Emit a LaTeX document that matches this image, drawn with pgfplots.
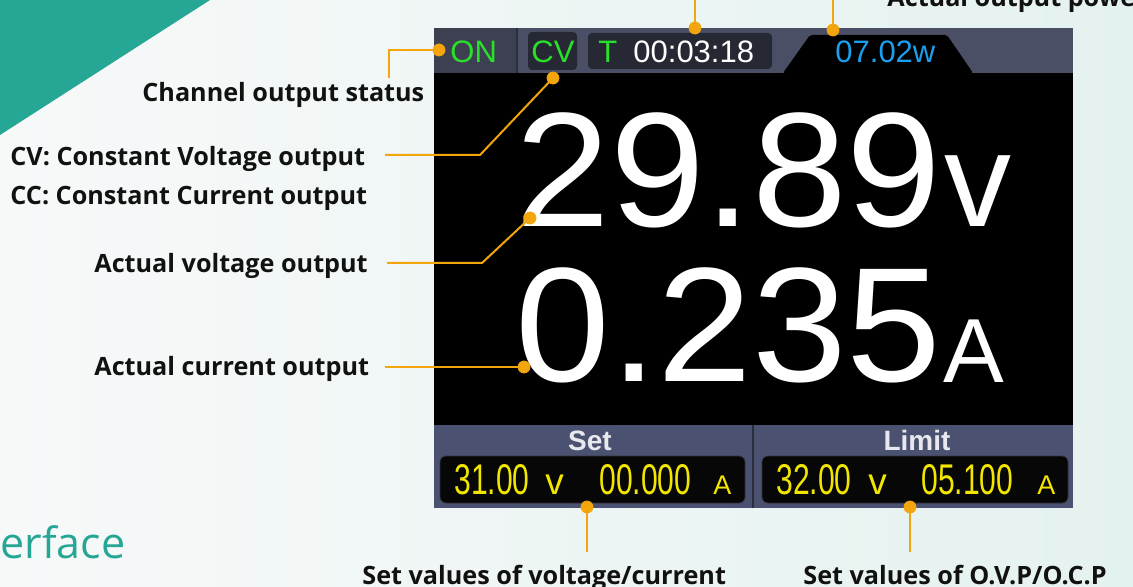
\documentclass[border=0pt]{standalone}
\usepackage{pgfplots}
\pgfplotsset{compat=1.18}
\usepackage{fontspec}
\setmainfont{Open Sans}
\newfontfamily\arial{Liberation Sans}
\newfontfamily\arialn[FakeStretch=0.70]{Liberation Sans}
\newfontfamily\arialw[FakeStretch=1.045]{Liberation Sans}
\definecolor{tealc}{RGB}{38,166,148}
\definecolor{orng}{RGB}{242,165,12}
\definecolor{bgL}{RGB}{247,249,249}
\definecolor{bgR}{RGB}{228,242,239}
\definecolor{barc}{RGB}{74,79,102}
\definecolor{bardk}{RGB}{60,64,81}
\definecolor{boxc}{RGB}{38,41,52}
\definecolor{panel}{RGB}{75,81,112}
\definecolor{divc}{RGB}{43,46,58}
\definecolor{grn}{RGB}{43,224,43}
\definecolor{cyn}{RGB}{26,160,238}
\definecolor{ylw}{RGB}{242,230,0}
\definecolor{setc}{RGB}{232,232,238}
\definecolor{txt}{RGB}{17,17,17}
\begin{document}
\begin{tikzpicture}
\begin{axis}[scale only axis, width=566.5pt, height=293.5pt,
  xmin=0, xmax=1133, ymin=0, ymax=587, y dir=reverse,
  hide axis, clip=false]
% background
\addplot[draw=none, left color=bgL, right color=bgR] coordinates {(0,0) (1133,0) (1133,587) (0,587)} -- cycle;
% teal triangle
\addplot[draw=none, fill=tealc] coordinates {(0,0) (210,0) (0,135)} -- cycle;
% screen top bar
\addplot[draw=none, fill=barc] coordinates {(434,28) (1073,28) (1073,73) (434,73)} -- cycle;
\addplot[draw=none, fill=bardk] coordinates {(434,28) (516,28) (516,73) (434,73)} -- cycle;
\addplot[divc, line width=1pt] coordinates {(517,28) (517,73)};
\addplot[draw=none, fill=boxc, rounded corners=2pt] coordinates {(528,32) (577,32) (577,70) (528,70)} -- cycle;
\addplot[draw=none, fill=boxc, rounded corners=2pt] coordinates {(588,33) (772,33) (772,69) (588,69)} -- cycle;
\addplot[draw=none, fill=black, rounded corners=1pt] coordinates {(783,73) (810,35) (947,35) (973,73)} -- cycle;
% black display
\addplot[draw=none, fill=black] coordinates {(434,73) (1073,73) (1073,425) (434,425)} -- cycle;
% bottom panel
\addplot[draw=none, fill=panel] coordinates {(434,425) (1073,425) (1073,508) (434,508)} -- cycle;
\addplot[divc, line width=1.2pt] coordinates {(753,425) (753,508)};
\addplot[draw={rgb,255:red,50;green,52;blue,62}, fill={rgb,255:red,7;green,7;blue,7}, rounded corners=3pt] coordinates {(440,456) (745,456) (745,503) (440,503)} -- cycle;
\addplot[draw={rgb,255:red,50;green,52;blue,62}, fill={rgb,255:red,7;green,7;blue,7}, rounded corners=3pt] coordinates {(762,456) (1068,456) (1068,503) (762,503)} -- cycle;
% top bar texts
\node[anchor=base west, inner sep=0, text=grn, font=\arial\fontsize{15.5}{15.5}\selectfont] at (axis cs:450,63) {ON};
\node[anchor=base west, inner sep=0, text=grn, font=\arial\fontsize{15.5}{15.5}\selectfont] at (axis cs:531,63) {CV};
\node[anchor=base west, inner sep=0, text=grn, font=\arial\fontsize{15.5}{15.5}\selectfont] at (axis cs:598,63) {T};
\node[anchor=base west, inner sep=0, text=white, font=\arial\fontsize{15.5}{15.5}\selectfont] at (axis cs:633,63) {00:03:18};
\node[anchor=base west, inner sep=0, text=cyn, font=\arial\fontsize{15.5}{15.5}\selectfont] at (axis cs:835,63) {07.02w};
% big readings
\node[anchor=base west, inner sep=0, text=white, font=\arialw\fontsize{81.5}{81.5}\selectfont] at (axis cs:515,227) {29.89};
\node[anchor=base west, inner sep=0, text=white, font=\arial\fontsize{67}{67}\selectfont] at (axis cs:944,227) {v};
\node[anchor=base west, inner sep=0, text=white, font=\arialw\fontsize{81.5}{81.5}\selectfont] at (axis cs:515,381) {0.235};
\node[anchor=base west, inner sep=0, text=white, font=\arial\fontsize{45.5}{45.5}\selectfont] at (axis cs:943,382) {A};
% bottom panel texts
\node[anchor=base, inner sep=0, text=setc, font=\arial\bfseries\fontsize{14}{14}\selectfont] at (axis cs:590,450) {Set};
\node[anchor=base, inner sep=0, text=setc, font=\arial\bfseries\fontsize{14}{14}\selectfont] at (axis cs:917,450) {Limit};
\node[anchor=base west, inner sep=0, text=ylw, font=\arialn\fontsize{21.5}{21.5}\selectfont] at (axis cs:454,494) {31.00};
\node[anchor=base west, inner sep=0, text=ylw, font=\arial\fontsize{18.5}{18.5}\selectfont] at (axis cs:545,494) {v};
\node[anchor=base west, inner sep=0, text=ylw, font=\arialn\fontsize{21.5}{21.5}\selectfont] at (axis cs:599,494) {00.000};
\node[anchor=base west, inner sep=0, text=ylw, font=\arial\fontsize{13.5}{13.5}\selectfont] at (axis cs:713,494) {A};
\node[anchor=base west, inner sep=0, text=ylw, font=\arialn\fontsize{21.5}{21.5}\selectfont] at (axis cs:776,494) {32.00};
\node[anchor=base west, inner sep=0, text=ylw, font=\arial\fontsize{18.5}{18.5}\selectfont] at (axis cs:868,494) {v};
\node[anchor=base west, inner sep=0, text=ylw, font=\arialn\fontsize{21.5}{21.5}\selectfont] at (axis cs:921,494) {05.100};
\node[anchor=base west, inner sep=0, text=ylw, font=\arial\fontsize{13.5}{13.5}\selectfont] at (axis cs:1037,494) {A};
% labels
\node[anchor=base west, inner sep=0, text=txt, font=\bfseries\fontsize{12.6}{12.6}\selectfont] at (axis cs:142,102) {Channel output status};
\node[anchor=base west, inner sep=0, text=txt, font=\bfseries\fontsize{12.6}{12.6}\selectfont] at (axis cs:10,166) {CV: Constant Voltage output};
\node[anchor=base west, inner sep=0, text=txt, font=\bfseries\fontsize{12.6}{12.6}\selectfont] at (axis cs:10,205) {CC: Constant Current output};
\node[anchor=base west, inner sep=0, text=txt, font=\bfseries\fontsize{12.6}{12.6}\selectfont] at (axis cs:94,273) {Actual voltage output};
\node[anchor=base west, inner sep=0, text=txt, font=\bfseries\fontsize{12.6}{12.6}\selectfont] at (axis cs:94,375) {Actual current output};
\node[anchor=base west, inner sep=0, text=txt, font=\bfseries\fontsize{12.6}{12.6}\selectfont] at (axis cs:362,584) {Set values of voltage/current};
\node[anchor=base west, inner sep=0, text=txt, font=\bfseries\fontsize{12.6}{12.6}\selectfont] at (axis cs:803,584) {Set values of O.V.P/O.C.P};
\node[anchor=base west, inner sep=0, text=txt, font=\bfseries\fontsize{12.6}{12.6}\selectfont] at (axis cs:887,7) {Actual output power};
\node[anchor=base west, inner sep=0, text=tealc, font=\fontsize{21.5}{21.5}\selectfont] at (axis cs:0,558) {erface};
% leader lines
\addplot[orng, line width=1pt] coordinates {(439,50) (389,50) (389,78)};
\addplot[orng, line width=1pt] coordinates {(553,78) (480,155) (385,155)};
\addplot[orng, line width=1pt] coordinates {(695,28) (695,0)};
\addplot[orng, line width=1pt] coordinates {(833,30) (833,0)};
\addplot[orng, line width=1pt] coordinates {(530,218) (482,263) (387,263)};
\addplot[orng, line width=1pt] coordinates {(524,367) (385,367)};
\addplot[orng, line width=1pt] coordinates {(587,507) (587,552)};
\addplot[orng, line width=1pt] coordinates {(910,507) (910,552)};
\addplot[only marks, mark=*, mark size=3pt, color=orng] coordinates {(439,50) (553,78) (695,28) (833,30) (530,218) (524,367) (587,507) (910,507)};
\end{axis}
\pgfresetboundingbox
\path (current axis.south west) rectangle (current axis.north east);
\end{tikzpicture}
\end{document}
